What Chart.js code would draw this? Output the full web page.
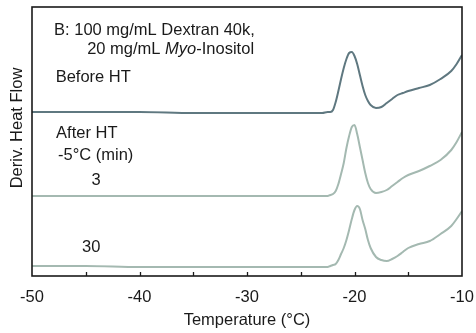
<!DOCTYPE html>
<html lang="en">
<head>
    <meta charset="UTF-8">
    <title>Deriv. Heat Flow</title>
    <script src="https://cdn.jsdelivr.net/npm/chart.js"></script>
    <style>
        html, body {
            margin: 0;
            padding: 0;
            background: #fff;
        }
        #wrap {
            width: 476px;
            height: 333px;
        }
    </style>
</head>
<body>
    <div id="wrap"><canvas id="dsc"></canvas></div>

    <script>
        // temperature grid (°C), shared by the three scans
        const temps = [-50, -45, -40, -35, -30, -25, -23, -22.5, -22.25, -22, -21.75, -21.5, -21.25, -21,
            -20.75, -20.5, -20.25, -20, -19.75, -19.5, -19.25, -19, -18.75, -18.5, -18, -17.5, -17,
            -16.5, -16, -15.5, -15, -14, -13, -12, -11, -10.5, -10];

        // derivative heat flow, stacked (arbitrary units)
        const beforeHT = [16.4, 16.4, 16.4, 16.3, 16.3, 16.3, 16.3, 16.4, 16.4, 16.6, 17.4, 18.5, 19.7, 20.8,
            21.7, 22.3, 22.4, 22.0, 21.2, 20.1, 19.0, 18.1, 17.5, 17.1, 16.8, 16.9, 17.3,
            17.7, 18.1, 18.3, 18.5, 18.8, 19.1, 19.7, 20.5, 21.2, 22.1];
        const after3min = [8.0, 8.0, 8.0, 8.0, 8.0, 8.0, 8.0, 8.0, 8.1, 8.2, 8.5, 9.2, 10.2, 11.3,
            12.8, 14.0, 14.9, 15.1, 14.2, 12.9, 11.6, 10.3, 9.3, 8.7, 8.3, 8.4, 8.6,
            9.0, 9.4, 9.8, 10.1, 10.5, 11.0, 11.6, 12.6, 13.4, 14.4];
        const after30min = [1.0, 1.0, 0.9, 0.9, 0.9, 0.9, 0.9, 0.9, 1.0, 1.1, 1.2, 1.6, 2.2, 2.8,
            3.6, 4.6, 5.7, 6.6, 7.0, 6.7, 5.6, 4.7, 3.6, 2.8, 1.9, 1.6, 1.5,
            1.7, 2.0, 2.4, 2.8, 3.2, 3.5, 4.2, 5.0, 5.7, 6.5];

        const xTickValues = [-50, -40, -30, -20, -10];
        const xMinorTicks = [-45, -40, -35, -30, -25, -20, -15];

        const FONT = '"Liberation Sans", Arial, sans-serif';
        const SIZE = 16.5;

        function points(ys) {
            return temps.map((t, i) => ({ x: t, y: ys[i] }));
        }

        // frame, inward ticks and text labels
        const decorations = {
            id: 'decorations',
            afterDraw(chart) {
                const ctx = chart.ctx;
                const area = chart.chartArea;
                const xs = chart.scales.x;
                const ys = chart.scales.y;

                ctx.save();
                ctx.strokeStyle = '#1a1a1a';
                ctx.lineWidth = 1.6;
                ctx.strokeRect(area.left, area.top, area.right - area.left, area.bottom - area.top);

                ctx.lineWidth = 1.3;
                ctx.beginPath();
                xMinorTicks.forEach(v => {
                    const px = Math.round(xs.getPixelForValue(v)) + 0.5;
                    ctx.moveTo(px, area.bottom);
                    ctx.lineTo(px, area.bottom - 4);
                });
                ctx.stroke();

                ctx.fillStyle = '#1a1a1a';
                ctx.textBaseline = 'alphabetic';
                ctx.textAlign = 'left';
                const put = (text, x, y, style) => {
                    ctx.font = (style || '') + ' ' + SIZE + 'px ' + FONT;
                    const px = xs.getPixelForValue(x);
                    ctx.fillText(text, px, ys.getPixelForValue(y));
                    return px + ctx.measureText(text).width;
                };

                put('B: 100 mg/mL Dextran 40k,', -47.95, 24.1);
                let px = put('20 mg/mL ', -44.87, 22.2);
                ctx.font = 'italic ' + SIZE + 'px ' + FONT;
                ctx.fillText('Myo', px, ys.getPixelForValue(22.2));
                px += ctx.measureText('Myo').width;
                ctx.font = SIZE + 'px ' + FONT;
                ctx.fillText('-Inositol', px, ys.getPixelForValue(22.2));

                put('Before HT', -47.8, 19.4);
                put('After HT', -47.76, 13.8);
                put('-5°C (min)', -47.58, 11.6);

                ctx.textAlign = 'center';
                ctx.font = SIZE + 'px ' + FONT;
                ctx.fillText('3', xs.getPixelForValue(-44.03), ys.getPixelForValue(9.1));
                ctx.fillText('30', xs.getPixelForValue(-44.5), ys.getPixelForValue(2.4));

                // y axis title
                ctx.translate(17, area.top + 121);
                ctx.rotate(-Math.PI / 2);
                ctx.textBaseline = 'middle';
                ctx.fillText('Deriv. Heat Flow', 0, 0);
                ctx.restore();
            }
        };

        const lineStyle = {
            borderWidth: 2,
            pointRadius: 0,
            fill: false,
            cubicInterpolationMode: 'monotone'
        };

        new Chart(document.getElementById('dsc'), {
            type: 'line',
            data: {
                datasets: [
                    Object.assign({ label: 'Before HT', data: points(beforeHT), borderColor: '#5f7880' }, lineStyle),
                    Object.assign({ label: '3 min', data: points(after3min), borderColor: '#a4b9b1' }, lineStyle),
                    Object.assign({ label: '30 min', data: points(after30min), borderColor: '#a4b9b1' }, lineStyle)
                ]
            },
            options: {
                responsive: true,
                maintainAspectRatio: false,
                animation: false,
                layout: { padding: { top: 7, right: 14, left: 0, bottom: 0 } },
                plugins: {
                    legend: { display: false },
                    tooltip: { enabled: false }
                },
                scales: {
                    x: {
                        type: 'linear',
                        min: -50,
                        max: -10,
                        grid: { display: false, drawTicks: false },
                        border: { display: false },
                        afterBuildTicks: s => { s.ticks = xTickValues.map(v => ({ value: v })); },
                        afterFit: s => {
                            s.height = 57;
                            s.paddingLeft = 0;
                            s.paddingRight = 0;
                        },
                        ticks: {
                            padding: 12,
                            maxRotation: 0,
                            color: '#1a1a1a',
                            font: { family: FONT, size: SIZE }
                        },
                        title: {
                            display: true,
                            text: 'Temperature (°C)',
                            color: '#1a1a1a',
                            padding: { top: 0, bottom: 3 },
                            font: { family: FONT, size: SIZE }
                        }
                    },
                    y: {
                        min: 0,
                        max: 26.9,
                        grid: { display: false },
                        border: { display: false },
                        ticks: { display: false },
                        afterFit: s => { s.width = 32; }
                    }
                }
            },
            plugins: [decorations]
        });
    </script>
</body>
</html>
